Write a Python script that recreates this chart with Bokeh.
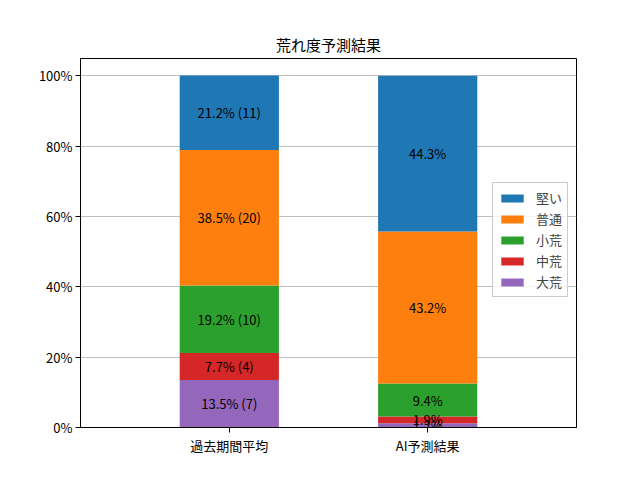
from bokeh.plotting import figure
from bokeh.models import (Legend, LegendItem, ColumnDataSource, FixedTicker,
                          PrintfTickFormatter, Range1d, LabelSet)
from bokeh.core.properties import value
from bokeh.embed import file_html
from bokeh.resources import INLINE

FONT = "Noto Sans CJK JP"

title = "荒れ度予測結果"
categories = ["過去期間平均", "AI予測結果"]
levels = ["大荒", "中荒", "小荒", "普通", "堅い"]
colors = ["#9467bd", "#d62728", "#2ca02c", "#ff7f0e", "#1f77b4"]

# percentages per level, bottom to top
past_pct = [13.5, 7.7, 19.2, 38.5, 21.2]
past_cnt = [7, 4, 10, 20, 11]
ai_pct = [1.2, 1.9, 9.4, 43.2, 44.3]

xpos = [0, 1]

p = figure(width=640, height=480, output_backend="svg", toolbar_location=None,
           x_range=Range1d(-0.75, 1.75), y_range=Range1d(0, 104.9),
           min_border_left=80, min_border_right=64, min_border_top=58,
           min_border_bottom=53)

renderers = []
src_txt = {"x": [], "y": [], "t": []}
bottoms = [0.0, 0.0]
for i, lev in enumerate(levels):
    vals = [past_pct[i], ai_pct[i]]
    tops = [bottoms[j] + vals[j] for j in range(2)]
    src = ColumnDataSource(dict(x=xpos, bottom=list(bottoms), top=tops))
    r = p.vbar(x="x", bottom="bottom", top="top", width=0.5, source=src,
               fill_color=colors[i], line_color=None)
    renderers.append(r)
    src_txt["x"] += xpos
    src_txt["y"] += [(bottoms[j] + tops[j]) / 2 for j in range(2)]
    src_txt["t"] += [f"{past_pct[i]}% ({past_cnt[i]})", f"{ai_pct[i]}%"]
    bottoms = tops

labels = LabelSet(x="x", y="y", text="t", source=ColumnDataSource(src_txt),
                  text_align="center", text_baseline="middle",
                  text_font=value(FONT), text_font_size="13px", text_color="#000000")
p.add_layout(labels)

p.title.text = title
p.title.align = "center"
p.title.text_font = FONT
p.title.text_font_size = "15px"
p.title.text_font_style = "normal"
p.title.text_color = "#000000"
p.title.standoff = 7

items = [LegendItem(label=levels[i], renderers=[renderers[i]]) for i in range(4, -1, -1)]
legend = Legend(items=items, location=(412, 130), label_text_font=FONT,
                label_text_font_size="13px", glyph_width=28, glyph_height=10,
                label_height=14, spacing=2, padding=5, margin=0, label_standoff=10,
                border_line_color="#cccccc", border_line_alpha=1.0,
                background_fill_alpha=0.8)
p.add_layout(legend)

p.yaxis.ticker = FixedTicker(ticks=[0, 20, 40, 60, 80, 100])
p.yaxis.formatter = PrintfTickFormatter(format="%d%%")
p.xaxis.ticker = FixedTicker(ticks=xpos)
p.xaxis.major_label_overrides = {0: categories[0], 1: categories[1]}
for ax in (p.xaxis, p.yaxis):
    ax.major_label_text_font = FONT
    ax.major_label_text_font_size = "13px"
    ax.major_label_text_color = "#000000"
    ax.axis_line_color = "#000000"
    ax.major_tick_line_color = "#000000"
    ax.major_tick_out = 5
    ax.major_tick_in = 0
    ax.minor_tick_line_color = None
    ax.major_label_standoff = 3

p.xgrid.grid_line_color = None
p.ygrid.grid_line_color = "#b0b0b0"
p.ygrid.grid_line_width = 0.8
p.outline_line_color = "#000000"
p.outline_line_alpha = 1.0

open("out.html", "w").write(file_html(p, INLINE))
